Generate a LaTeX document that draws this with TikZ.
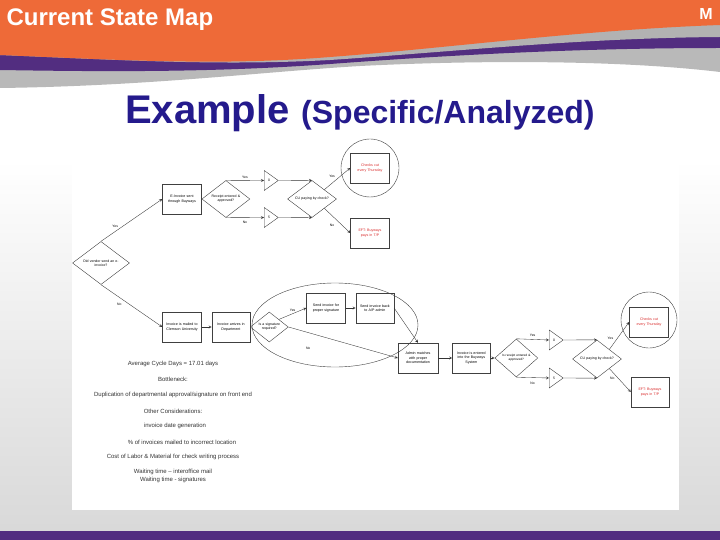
\documentclass[tikz,border=0pt]{standalone}
\usepackage{fontspec}
\setmainfont{Liberation Sans}
\usepackage{xcolor}
\usetikzlibrary{shapes,arrows,positioning,fit,calc}

\definecolor{clemorange}{RGB}{238,106,56}
\definecolor{clempurple}{RGB}{82,45,128}
\definecolor{titleblue}{RGB}{36,26,140}
\definecolor{flowred}{RGB}{218,45,45}

\begin{document}
\begin{tikzpicture}[x=1pt, y=-1pt,
    box/.style={rectangle, draw=black!75, line width=0.4pt, minimum width=39pt, minimum height=30pt, inner sep=1pt, text width=36pt, align=center, font=\fontsize{3.6}{4.3}\selectfont},
    decision/.style={diamond, aspect=1.3, draw=black!75, line width=0.4pt, minimum width=48pt, minimum height=37pt, inner sep=0pt, text width=34pt, align=center, font=\fontsize{3.5}{4.1}\selectfont},
    stock/.style={isosceles triangle, isosceles triangle stretches, draw=black!75, line width=0.4pt, minimum width=20pt, minimum height=14pt, inner sep=0pt, font=\fontsize{3.4}{4}\selectfont},
    ring/.style={circle, draw=black!75, line width=0.4pt, minimum size=58pt, inner sep=0pt},
    arrow/.style={->, >=stealth, line width=0.35pt, draw=black!80},
    lbl/.style={font=\fontsize{3.4}{4}\selectfont, inner sep=0.5pt},
    note/.style={font=\fontsize{6}{7}\selectfont, text=black!80, inner sep=0pt}
  ]
    % slide background
    \fill[white] (0,0) rectangle (720,540);
    \shade[top color=white, bottom color=gray!30] (0,160) rectangle (720,531);
    \fill[white] (72,140) rectangle (679,510);
    \fill[clempurple] (0,531) rectangle (720,540);

    % header swoosh
    \fill[gray!55] (0,0) -- (720,0) -- (720,72) .. controls (620,60) and (480,60) .. (360,66) .. controls (260,72) and (150,86) .. (0,88) -- cycle;
    \fill[clempurple] (0,0) -- (720,0) -- (720,48) .. controls (580,48) and (450,55) .. (330,64) .. controls (220,72) and (120,72) .. (0,70) -- cycle;
    \fill[gray!60] (0,0) -- (720,0) -- (720,37) .. controls (580,38) and (450,52) .. (330,60) .. controls (220,66) and (120,60) .. (0,55) -- cycle;
    \fill[clemorange] (0,0) -- (720,0) -- (720,25) .. controls (580,30) and (450,48) .. (330,57) .. controls (220,66) and (120,60) .. (0,55) -- cycle;

    \node[anchor=west, text=white, font=\bfseries\fontsize{24}{26}\selectfont] (maptitle) at (3,20) {Current State Map};
    \node[text=white, font=\bfseries\fontsize{16}{18}\selectfont] (logo) at (706,14) {M};
    \node[anchor=base west, inner sep=0pt, text=titleblue, font=\bfseries\fontsize{40}{44}\selectfont] (extitle) at (125,124) {Example};
    \node[anchor=base west, inner sep=0pt, text=titleblue, font=\bfseries\fontsize{32}{36}\selectfont] (exsub) at (301,124) {(Specific/Analyzed)};

    % upper path: e-invoice
    \node[decision, minimum width=57pt, minimum height=43pt, text width=42pt] (vendor) at (101,263) {Did vendor send an e-\\invoice?};
    \node[box] (einv) at (182,199) {E-Invoice sent\\through Buyways};
    \node[decision, right=0pt of einv] (rcptA) {Receipt entered \&\\approved?};
    \node[stock] (invA) at (269,180.5) {0};
    \node[stock] (invB) at (269,217.5) {5};
    \node[decision, minimum width=49pt] (cuA) at (312,199) {CU paying by check?};
    \node[box, line width=0.7pt, text=flowred] (chkA) at (370,168) {Checks cut\\every Thursday};
    \node[ring] (ringA) at (370,168) {};
    \node[box, text=flowred] (eftA) at (370,233) {EFT: Buyways\\pays in T/P};

    % lower path: paper invoice
    \node[box] (mail) at (182,327) {Invoice is mailed to\\Clemson University};
    \node[box, minimum width=37pt, right=10pt of mail] (dept) {Invoice arrives in\\Department};
    \node[decision, minimum width=38pt, minimum height=30pt, text width=26pt, right=0pt of dept] (sig) {Is a signature\\required?};
    \node[box] (sendsig) at (326,308) {Send invoice for\\proper signature};
    \node[box, minimum width=38pt, right=10pt of sendsig] (sendback) {Send invoice back\\to A/P admin};
    \node[ellipse, draw=black!75, line width=0.4pt, minimum width=166pt, minimum height=84pt] (sigloop) at (335,325) {};
    \node[box, minimum width=40pt] (admin) at (418,358) {Admin matches\\with proper\\documentation};
    \node[box, minimum width=38pt, right=14pt of admin] (entered) {Invoice is entered\\into the Buyways\\System};
    \node[decision, minimum width=43pt, minimum height=38pt, text width=34pt, font=\fontsize{3.2}{3.9}\selectfont, right=4pt of entered] (rcptB) {Is receipt entered \&\\approved?};
    \node[stock] (invC) at (554,340) {0};
    \node[stock] (invD) at (554,378) {5};
    \node[decision, minimum width=49pt, minimum height=38pt] (cuB) at (597,359) {CU paying by check?};
    \node[box, line width=0.7pt, text=flowred] (chkB) at (649,322) {Checks cut\\every Thursday};
    \node[ring, minimum size=56pt] (ringB) at (649,320) {};
    \node[box, minimum width=37pt, text=flowred] (eftB) at (650,392) {EFT: Buyways\\pays in T/P};

    \draw[arrow] (vendor.north) -- node[lbl, pos=0.3, above left=1pt] {Yes} (einv.west);
    \draw[arrow] (vendor.south) -- node[lbl, pos=0.3, below=5pt] {No} (mail.west);
    \draw[arrow] (rcptA.north) -- node[lbl, above=1pt] {Yes} (invA.west);
    \draw[arrow] (rcptA.south) -- node[lbl, below=3pt] {No} (invB.west);
    \draw[arrow] (invA.apex) -- (cuA.north);
    \draw[arrow] (invB.apex) -- (cuA.south);
    \draw[arrow] (cuA.north east) -- node[lbl, pos=0.3, above=5pt] {Yes} (chkA.west);
    \draw[arrow] (cuA.south east) -- node[lbl, pos=0.3, below=8pt] {No} (eftA.west);

    \draw[arrow] (mail) -- (dept);
    \draw[arrow] (sig.north east) -- node[lbl, above=1pt] {Yes} (sendsig.west);
    \draw[arrow] (sendsig) -- (sendback);
    \draw[arrow] (sig.east) -- node[lbl, pos=0.18, below=14pt] {No} (admin.west);
    \draw[arrow] (sendback.east) -- (admin.north);
    \draw[arrow] (admin) -- (entered);
    \draw[arrow] (entered) -- (rcptB);
    \draw[arrow] (rcptB.north) -- node[lbl, above=2pt] {Yes} (invC.west);
    \draw[arrow] (rcptB.south) -- node[lbl, below=4pt] {No} (invD.west);
    \draw[arrow] (invC.apex) -- (cuB.north);
    \draw[arrow] (invD.apex) -- (cuB.south);
    \draw[arrow] (cuB.north east) -- node[lbl, pos=0.3, above left=2pt] {Yes} (chkB.west);
    \draw[arrow] (cuB.south east) -- node[lbl, pos=0.3, below left=1pt] {No} (eftB.west);

    % findings
    \node[note] (cycle) at (173,364) {Average Cycle Days = 17.01 days};
    \node[note] (neck) at (173,379) {Bottleneck:};
    \node[note] (dup) at (173,395) {Duplication of departmental approval/signature on front end};
    \node[note] (other) at (173,411) {Other Considerations:};
    \node[note] (gen) at (175,426) {invoice date generation};
    \node[note] (wrong) at (182,442) {\% of invoices mailed to incorrect location};
    \node[note] (cost) at (173,457) {Cost of Labor \& Material for check writing process};
    \node[note, align=center, font=\fontsize{6}{7.8}\selectfont] (wait) at (173,476) {Waiting time -- interoffice mail\\Waiting time - signatures};
\end{tikzpicture}
\end{document}
